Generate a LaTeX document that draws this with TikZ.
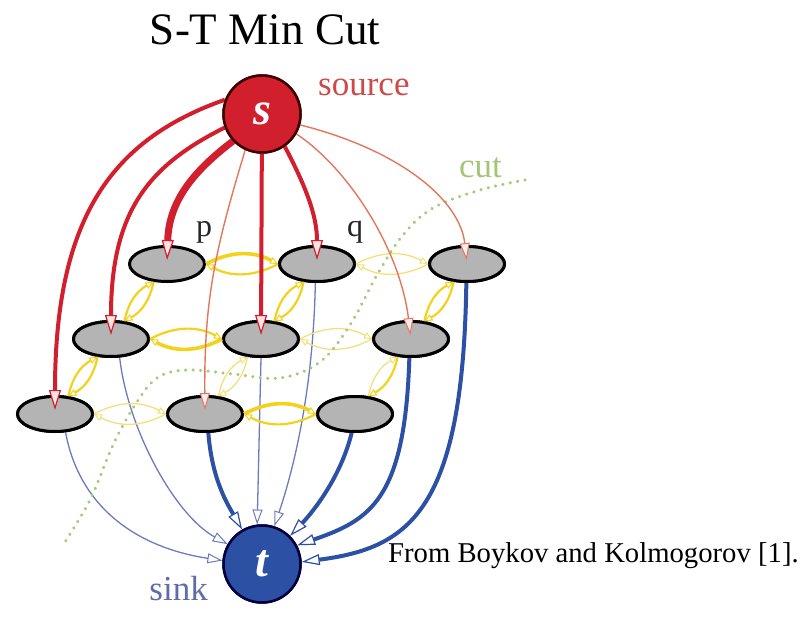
\documentclass[tikz,border=0pt]{standalone}
\usepackage{fontspec}
\setmainfont{Liberation Serif}
\usetikzlibrary{arrows.meta,shapes.geometric}

\definecolor{sred}{HTML}{D21F2D}
\definecolor{sredthin}{HTML}{E2775C}
\definecolor{tblue}{HTML}{2C50A4}
\definecolor{tbluethin}{HTML}{6C7BBD}
\definecolor{nyellow}{HTML}{F2D21C}
\definecolor{nyellowthin}{HTML}{F3E07C}
\definecolor{cutgreen}{HTML}{A4CA7C}
\definecolor{pixgray}{HTML}{B4B4B4}
\definecolor{srclabel}{HTML}{CC4A48}
\definecolor{sinklabel}{HTML}{5E6CA8}
\definecolor{cutlabel}{HTML}{A2C676}

\tikzset{
  pixel/.style={ellipse, draw=black, line width=3pt, fill=pixgray,
    minimum width=75pt, minimum height=35pt, inner sep=0pt},
  terminal/.style={circle, line width=2.5pt, minimum size=77pt, inner sep=0pt,
    text=white, font=\fontsize{46}{46}\selectfont\bfseries\itshape},
  label/.style={inner sep=0pt, font=\fontsize{35}{35}\selectfont},
  % s-links (source to pixel)
  redtip/.style={-{Triangle[length=20pt,width=12pt,line width=1.2pt,fill=sred!12]}},
  redthick/.style={redtip, draw=sred, line width=4pt, shorten >=4pt},
  redfat/.style={redtip, draw=sred, line width=7pt, shorten >=4pt},
  redthin/.style={-{Triangle[length=17pt,width=10pt,line width=1pt,fill=sred!8]},
    draw=sredthin, line width=1.4pt, shorten >=4pt},
  % t-links (pixel to sink)
  bluethick/.style={-{Triangle[length=18pt,width=11pt,line width=1.2pt,fill=white]},
    draw=tblue, line width=4pt},
  bluethin/.style={-{Triangle[length=15pt,width=10pt,line width=1pt,fill=white]},
    draw=tbluethin, line width=1.3pt},
  % n-links (pixel to pixel)
  ytip/.style={-{Triangle[length=8pt,width=7pt,line width=1pt,fill=white]}},
  nthick/.style={ytip, draw=nyellow, line width=3.6pt},
  nmed/.style={ytip, draw=nyellow, line width=2.2pt},
  nthin/.style={ytip, draw=nyellowthin, line width=1.3pt},
  cutline/.style={draw=cutgreen, line width=3.5pt, line cap=round,
    dash pattern=on 0.01pt off 7.5pt},
}

\begin{document}
\begin{tikzpicture}[x=1pt,y=1pt]
\useasboundingbox (0,0) rectangle (805,-631);

% pixel grid (3 x 3, sheared)
\node[pixel] (a1) at (167,-264) {};
\node[pixel] (a2) at (317,-264) {};
\node[pixel] (a3) at (467,-264) {};
\node[pixel] (b1) at (111,-339) {};
\node[pixel] (b2) at (261,-339) {};
\node[pixel] (b3) at (411,-339) {};
\node[pixel] (c1) at (55,-414) {};
\node[pixel] (c2) at (205,-414) {};
\node[pixel] (c3) at (355,-414) {};

\node[terminal, fill=sred, draw=black!75!red] (s) at (262,-114) {s};
\node[terminal, fill=tblue, draw=black!75!blue] (t) at (262,-564) {t};

% t-links
\draw[bluethin] (c1.300) .. controls (80,-510) and (140,-548) .. (t.175);
\draw[bluethin] (b1.295) .. controls (128,-430) and (175,-515) .. (t.150);
\draw[bluethick] (c2.280) .. controls (212,-480) and (228,-505) .. (t.120);
\draw[bluethin] (b2.south) -- (t.97);
\draw[bluethin] (a2.265) .. controls (313,-400) and (290,-480) .. (t.72);
\draw[bluethick] (c3.260) .. controls (340,-480) and (310,-515) .. (t.45);
\draw[bluethick] (b3.265) .. controls (405,-500) and (370,-520) .. (t.28);
\draw[bluethick] (a3.268) .. controls (463,-510) and (410,-548) .. (t.3);

% redraw pixels over the t-link starts
\node[pixel] at (a2) {};
\node[pixel] at (a3) {};
\node[pixel] at (b1) {};
\node[pixel] at (b2) {};
\node[pixel] at (b3) {};
\node[pixel] at (c1) {};
\node[pixel] at (c2) {};
\node[pixel] at (c3) {};

% n-links, horizontal
\draw[nthick] (a1.east) to[bend left=28] (a2.west);
\draw[nmed]   (a2.west) to[bend left=28] (a1.east);
\draw[nthin]  (a2.east) to[bend left=28] (a3.west);
\draw[nthin]  (a3.west) to[bend left=28] (a2.east);
\draw[nmed]   (b1.east) to[bend left=28] (b2.west);
\draw[nthick] (b2.west) to[bend left=28] (b1.east);
\draw[nthin]  (b2.east) to[bend left=28] (b3.west);
\draw[nthin]  (b3.west) to[bend left=28] (b2.east);
\draw[nthin]  (c1.east) to[bend left=28] (c2.west);
\draw[nthin]  (c2.west) to[bend left=28] (c1.east);
\draw[nthick] (c2.east) to[bend left=28] (c3.west);
\draw[nmed]   (c3.west) to[bend left=28] (c2.east);

% n-links, between rows
\draw[nmed]  (a1.233) to[bend left=25] (b1.53);
\draw[nmed]  (b1.53) to[bend left=25] (a1.233);
\draw[nmed]  (b1.233) to[bend left=25] (c1.53);
\draw[nmed]  (c1.53) to[bend left=25] (b1.233);
\draw[nmed]  (a2.233) to[bend left=25] (b2.53);
\draw[nmed]  (b2.53) to[bend left=25] (a2.233);
\draw[nthin] (b2.233) to[bend left=25] (c2.53);
\draw[nthin] (c2.53) to[bend left=25] (b2.233);
\draw[nmed]  (a3.233) to[bend left=25] (b3.53);
\draw[nmed]  (b3.53) to[bend left=25] (a3.233);
\draw[nmed]  (b3.233) to[bend left=25] (c3.53);
\draw[nthin] (c3.53) to[bend left=25] (b3.233);

% the cut
\draw[cutline] plot[smooth, tension=0.6] coordinates {
  (525,-180) (480,-190) (433,-208) (403,-235) (377,-275) (350,-325)
  (320,-362) (280,-378) (233,-374) (187,-370) (157,-378) (135,-405)
  (113,-445) (90,-500) (63,-545)};

% s-links
\draw[redthick] (s.159) .. controls (110,-140) and (55,-220) .. (c1.center);
\draw[redthick] (s.200) .. controls (150,-165) and (111,-210) .. (b1.center);
\draw[redfat]   (s.223) .. controls (195,-170) and (169,-200) .. (a1.center);
\draw[redthin]  (s.245) .. controls (215,-250) and (204,-300) .. (c2.center);
\draw[redthick] (s) -- (b2.center);
\draw[redthick] (s.305) .. controls (305,-185) and (317,-215) .. (a2.center);
\draw[redthin]  (s.330) .. controls (350,-170) and (400,-250) .. (b3.center);
\draw[redthin]  (s.344) .. controls (400,-150) and (460,-200) .. (a3.center);

\node[terminal, fill=sred, draw=black!75!red] at (s) {s};
\node[terminal, fill=tblue, draw=black!75!blue] at (t) {t};

% labels
\node[label, anchor=base west, text=srclabel] (srclbl) at (318,-96) {source};
\node[label, anchor=base east, text=sinklabel] (sinklbl) at (208,-600) {sink};
\node[label, anchor=base west, text=cutlabel] (cutlbl) at (459,-178) {cut};
\node[label, anchor=base, text=black!85, font=\fontsize{32}{32}\selectfont] (plbl) at (204,-236) {p};
\node[label, anchor=base, text=black!85, font=\fontsize{32}{32}\selectfont] (qlbl) at (355,-236) {q};

\node[inner sep=0pt, anchor=base, font=\fontsize{45}{45}\selectfont] (title) at (265,-45) {S-T Min Cut};
\node[inner sep=0pt, anchor=base west, font=\fontsize{28.7}{30}\selectfont] (credit) at (388,-562) {From Boykov and Kolmogorov [1].};
\end{tikzpicture}
\end{document}
